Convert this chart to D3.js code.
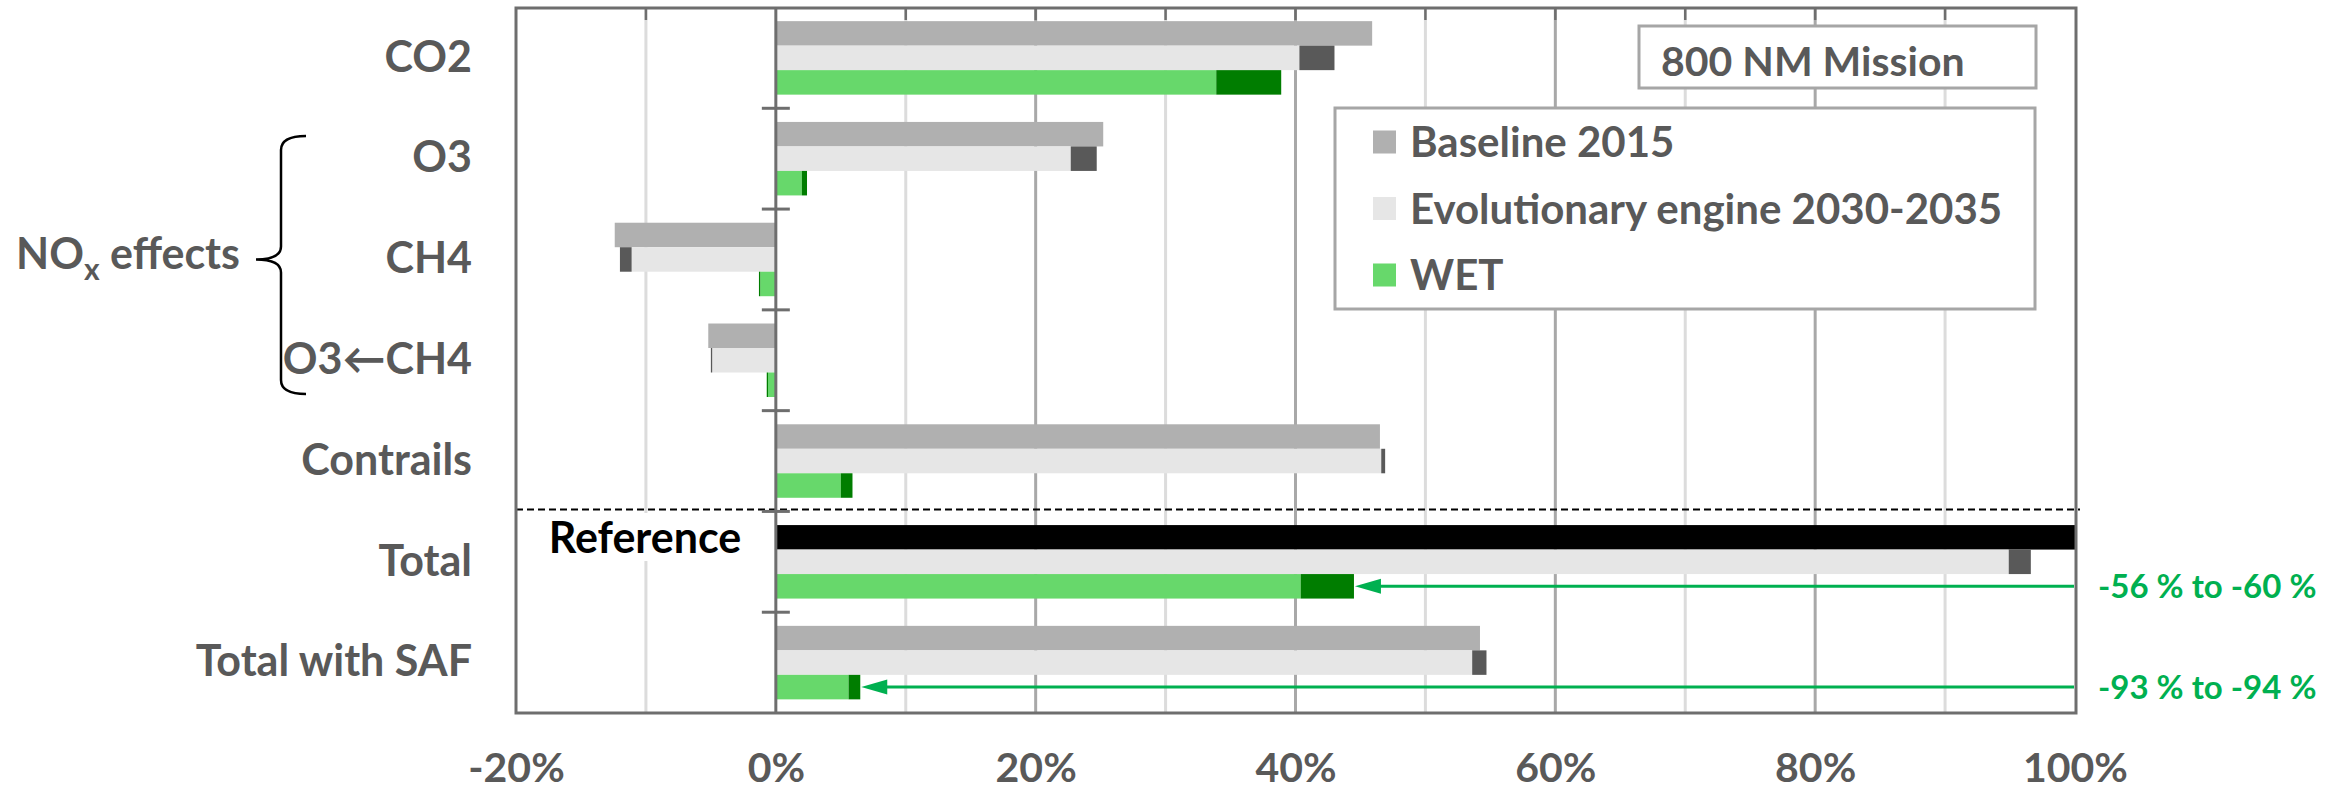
<!DOCTYPE html>
<html><head><meta charset="utf-8">
<script src="https://cdn.jsdelivr.net/npm/d3@7"></script>
<style>
html,body{margin:0;padding:0;background:#fff;}
svg{display:block;}
text{font-family:Lato,"Open Sans",sans-serif;font-weight:700;}
</style></head><body>
<svg id="chart" width="2344" height="792"></svg>
<script>
// ---- data (percent of reference total) ----
const categories = ["CO2","O3","CH4","O3\u2190CH4","Contrails","Total","Total with SAF"];
const baseline   = [45.9, 25.2, -12.4, -5.2, 46.5, 100, 54.2];
const evoLow     = [40.3, 22.7, -11.1, -4.9, 46.6, 94.9, 53.6];
const evoHigh    = [43.0, 24.7, -12.0, -5.0, 46.9, 96.6, 54.7];
const wetLow     = [33.9,  2.0,  -1.2, -0.6,  5.0, 40.4,  5.6];
const wetHigh    = [38.9,  2.4,  -1.3, -0.7,  5.9, 44.5,  6.5];
const seriesNames = ["Baseline 2015","Evolutionary engine 2030-2035","WET"];
const xTicks = [-20, 0, 20, 40, 60, 80, 100];
const reductionCats = ["Total","Total with SAF"];
const reductionLabels = ["-56 % to -60 %","-93 % to -94 %"];

const C = {base:"#b0b0b0", evo:"#e6e6e6", wet:"#67d86b", evoR:"#595959", wetR:"#007d00",
           ref:"#000000", text:"#595959", arrow:"#00b050"};

const svg = d3.select("#chart");
const L=516, R=2076, T=8, B=713;
const x = d3.scaleLinear().domain([-20,100]).range([L,R-1]);
const y = d3.scaleBand().domain(categories).range([7.5,B]);
const ys = d3.scaleBand().domain([0,1,2]).range([0,y.bandwidth()]).paddingOuter(0.557);

// gridlines
const grid = svg.append("g");
d3.range(-10,100,10).filter(v=>v!==0).forEach(v=>{
  grid.append("line").attr("x1",x(v)).attr("x2",x(v)).attr("y1",T).attr("y2",B)
    .attr("stroke", v%20===0 ? "#a8a8a8" : "#dcdcdc").attr("stroke-width",3);
  grid.append("line").attr("x1",x(v)).attr("x2",x(v)).attr("y1",T).attr("y2",T+12)
    .attr("stroke","#6e6e6e").attr("stroke-width",2.5);
});

// bars
const bars = svg.append("g");
function seg(i,k,a,b,col){
  bars.append("rect").attr("x",x(Math.min(a,b))).attr("width",Math.abs(x(b)-x(a)))
    .attr("y",y(categories[i])+ys(k)).attr("height",ys.bandwidth()).attr("fill",col);
}
categories.forEach((c,i)=>{
  seg(i,0,0,baseline[i], c==="Total"?C.ref:C.base);
  seg(i,1,0,evoLow[i],C.evo);
  seg(i,1,evoLow[i],evoHigh[i],C.evoR);
  seg(i,2,0,wetLow[i],C.wet);
  seg(i,2,wetLow[i],wetHigh[i],C.wetR);
});

// dashed separator
const sepY = y("Total")-2;
svg.append("line").attr("x1",L).attr("x2",R+4).attr("y1",sepY).attr("y2",sepY)
  .attr("stroke","#000").attr("stroke-width",2).attr("stroke-dasharray","7,4");

// zero axis with ticks at band boundaries
svg.append("line").attr("x1",x(0)).attr("x2",x(0)).attr("y1",T).attr("y2",B)
  .attr("stroke","#6e6e6e").attr("stroke-width",3);
categories.slice(1).forEach(c=>{
  svg.append("line").attr("x1",x(0)-14).attr("x2",x(0)+14).attr("y1",y(c)).attr("y2",y(c))
    .attr("stroke","#6e6e6e").attr("stroke-width",3);
});

// plot border
svg.append("rect").attr("x",L).attr("y",T).attr("width",R-L).attr("height",B-T)
  .attr("fill","none").attr("stroke","#6e6e6e").attr("stroke-width",3);

// x axis labels
const xAxis = d3.axisBottom(x).tickValues(xTicks).tickSize(0).tickPadding(40).tickFormat(d=>d+"%");
const gx = svg.append("g").attr("transform",`translate(0,${B})`).call(xAxis);
gx.select(".domain").remove();
gx.selectAll("text").attr("fill",C.text).style("font-size","41px").style("font-family","Lato").style("font-weight","700");

// category labels
const yAxis = d3.axisLeft(y).tickSize(0).tickPadding(44);
const gy = svg.append("g").attr("transform",`translate(${L},0)`).call(yAxis);
gy.select(".domain").remove();
gy.selectAll("text").attr("fill",C.text).style("font-size","43px").style("font-family","Lato").style("font-weight","700");

// Reference label
svg.append("rect").attr("x",538).attr("y",513).attr("width",216).attr("height",48).attr("fill","#fff");
svg.append("text").attr("x",645).attr("y",553).attr("text-anchor","middle")
  .attr("fill","#000").style("font-size","43px").text("Reference");

// NOx bracket and label
const midY = (y("O3")+y("O3\u2190CH4")+y.bandwidth())/2;
const bt = 136, bb = 394, bx = 281;
svg.append("path").attr("fill","none").attr("stroke","#000").attr("stroke-width",2.5)
  .attr("d",`M306,${bt} Q${bx},${bt} ${bx},${bt+14} L${bx},${midY-13} Q${bx},${midY} 256,${midY} Q${bx},${midY} ${bx},${midY+13} L${bx},${bb-14} Q${bx},${bb} 306,${bb}`);
const nox = svg.append("text").attr("x",16).attr("y",midY+10).attr("fill",C.text).style("font-size","43px");
nox.append("tspan").text("NO");
nox.append("tspan").attr("dy",11).style("font-size","30px").text("x");
nox.append("tspan").attr("dy",-11).text(" effects");

// reduction arrows
reductionCats.forEach((c,j)=>{
  const i = categories.indexOf(c);
  const cy = y(c)+ys(2)+ys.bandwidth()/2;
  const tip = x(wetHigh[i])+1;
  svg.append("line").attr("x1",tip+20).attr("x2",R-2).attr("y1",cy).attr("y2",cy)
    .attr("stroke",C.arrow).attr("stroke-width",3);
  svg.append("path").attr("d",`M${tip},${cy} L${tip+26},${cy-7.5} L${tip+26},${cy+7.5} Z`).attr("fill",C.arrow);
  svg.append("text").attr("x",2098).attr("y",cy).attr("dy","0.36em").attr("fill",C.arrow)
    .style("font-size","33px").text(reductionLabels[j]);
});

// title box
svg.append("rect").attr("x",1639).attr("y",26).attr("width",397).attr("height",62)
  .attr("fill","#fff").attr("stroke","#a6a6a6").attr("stroke-width",3);
svg.append("text").attr("x",1661).attr("y",61).attr("dy","0.36em").attr("fill",C.text)
  .style("font-size","41px").text("800 NM Mission");

// legend
const lg = svg.append("g");
lg.append("rect").attr("x",1335).attr("y",108).attr("width",700).attr("height",201)
  .attr("fill","#fff").attr("stroke","#a6a6a6").attr("stroke-width",3);
const lgCols = [C.base, C.evo, C.wet];
seriesNames.forEach((s,k)=>{
  const cy = 142 + k*66.5;
  lg.append("rect").attr("x",1373).attr("y",cy-11.5).attr("width",23).attr("height",23).attr("fill",lgCols[k]);
  lg.append("text").attr("x",1410).attr("y",cy).attr("dy","0.36em").attr("fill",C.text)
    .style("font-size","42px").text(s);
});
</script>
</body></html>
